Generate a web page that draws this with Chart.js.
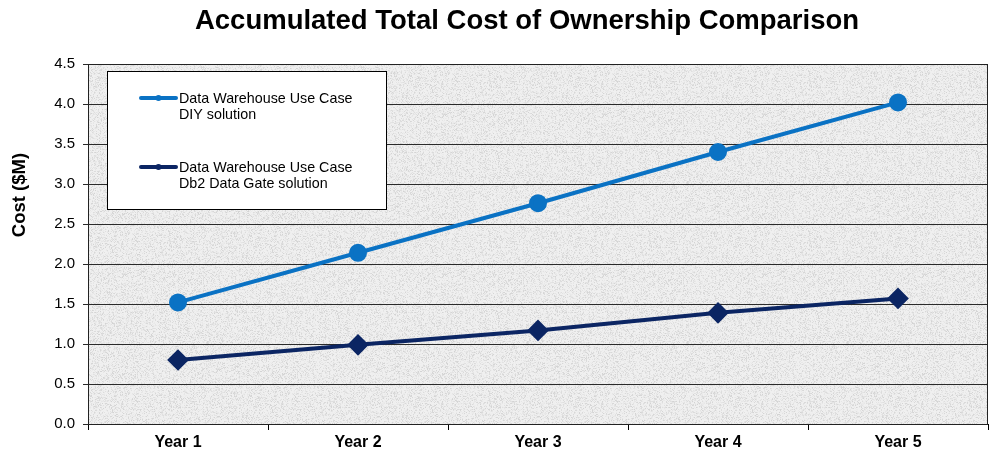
<!DOCTYPE html>
<html>
<head>
<meta charset="utf-8">
<script src="https://cdn.jsdelivr.net/npm/chart.js@4.4.0/dist/chart.umd.min.js"></script>
<style>
  html, body { margin: 0; padding: 0; background: #fff; }
  #wrap { width: 992px; height: 452px; }
</style>
</head>
<body>
<div id="wrap"><canvas id="tcoChart" width="992" height="452"></canvas></div>
<script>
// Chart data
const years = ['Year 1', 'Year 2', 'Year 3', 'Year 4', 'Year 5'];
const diyCost = [1.52, 2.14, 2.76, 3.40, 4.02];
const dataGateCost = [0.80, 0.99, 1.17, 1.39, 1.57];
const diyLabel = ['Data Warehouse Use Case', 'DIY solution'];
const dataGateLabel = ['Data Warehouse Use Case', 'Db2 Data Gate solution'];
const chartTitle = 'Accumulated Total Cost of Ownership Comparison';
const yTitle = 'Cost ($M)';

const FONT = '"Liberation Sans", Arial, sans-serif';

// Granite-like fill for the plot area (fixed seed so every render is the same)
function makeTexture() {
    const c = document.createElement('canvas');
    c.width = 160; c.height = 160;
    const g = c.getContext('2d');
    const img = g.createImageData(160, 160);
    let seed = 12345;
    const next = () => { seed = (seed * 1103515245 + 12345) & 0x7fffffff; return seed / 0x7fffffff; };
    for (let i = 0; i < 160 * 160; i++) {
        const r = next();
        let v = 240 - Math.floor(r * r * r * 30);
        img.data[i * 4] = v;
        img.data[i * 4 + 1] = v;
        img.data[i * 4 + 2] = v;
        img.data[i * 4 + 3] = 255;
    }
    g.putImageData(img, 0, 0);
    return c;
}

const plotBackground = {
    id: 'plotBackground',
    beforeDraw(chart) {
        const { ctx, chartArea: a } = chart;
        ctx.save();
        ctx.fillStyle = ctx.createPattern(makeTexture(), 'repeat');
        ctx.fillRect(a.left, a.top, a.right - a.left, a.bottom - a.top);
        ctx.restore();
    },
    afterDraw(chart) {
        const { ctx, chartArea: a } = chart;
        ctx.save();
        ctx.strokeStyle = '#222';
        ctx.lineWidth = 1;
        ctx.strokeRect(a.left + 0.5, a.top + 0.5, a.right - a.left - 1, a.bottom - a.top);
        // title, centred a little left of the plot centre
        ctx.fillStyle = '#000';
        ctx.font = 'bold 27.5px ' + FONT;
        ctx.textAlign = 'center';
        ctx.textBaseline = 'middle';
        ctx.fillText(chartTitle, 527, 21);
        // y axis title sits above the middle of the axis, as in the original
        ctx.translate(20, 195);
        ctx.rotate(-Math.PI / 2);
        ctx.font = 'bold 18.5px ' + FONT;
        ctx.fillText(yTitle, 0, 0);
        ctx.restore();
    }
};

// Legend drawn inside the plot area, like the original
const boxLegend = {
    id: 'boxLegend',
    afterDraw(chart) {
        const { ctx } = chart;
        const x = 107, y = 71, w = 279, h = 138;
        ctx.save();
        ctx.fillStyle = '#fff';
        ctx.fillRect(x, y, w, h);
        ctx.strokeStyle = '#000';
        ctx.lineWidth = 1;
        ctx.strokeRect(x + 0.5, y + 0.5, w, h);
        const rows = [98, 167];
        chart.data.datasets.forEach((ds, i) => {
            const ly = rows[i];
            ctx.strokeStyle = ds.borderColor;
            ctx.lineWidth = 4;
            ctx.lineCap = 'round';
            ctx.beginPath();
            ctx.moveTo(141, ly);
            ctx.lineTo(176, ly);
            ctx.stroke();
            ctx.fillStyle = ds.borderColor;
            ctx.beginPath();
            ctx.arc(158.5, ly, 3, 0, Math.PI * 2);
            ctx.fill();
            ctx.fillStyle = '#000';
            ctx.font = '14.3px ' + FONT;
            ctx.textAlign = 'left';
            ctx.textBaseline = 'middle';
            ds.legendLines.forEach((t, j) => ctx.fillText(t, 179, ly + 1 + j * 16));
        });
        ctx.restore();
    }
};

const ctx = document.getElementById('tcoChart').getContext('2d');
new Chart(ctx, {
    type: 'line',
    data: {
        labels: years,
        datasets: [{
            label: diyLabel.join(' '),
            legendLines: diyLabel,
            data: diyCost,
            borderColor: '#0a72c4',
            backgroundColor: '#0a72c4',
            borderWidth: 4,
            pointStyle: 'circle',
            pointRadius: 7,
            pointHoverRadius: 7
        }, {
            label: dataGateLabel.join(' '),
            legendLines: dataGateLabel,
            data: dataGateCost,
            borderColor: '#0b2563',
            backgroundColor: '#0b2563',
            borderWidth: 4,
            pointStyle: 'rectRot',
            pointRadius: 8,
            pointHoverRadius: 8
        }]
    },
    options: {
        responsive: false,
        animation: false,
        layout: { autoPadding: false, padding: { top: 64, right: 4, left: 0, bottom: 0 } },
        plugins: {
            legend: { display: false },
            title: { display: false },
            tooltip: { enabled: false }
        },
        scales: {
            x: {
                offset: true,
                afterFit(scale) { scale.height = 28; },
                grid: { offset: true, drawOnChartArea: false, tickLength: 6, color: '#000' },
                border: { display: false },
                ticks: {
                    color: '#000',
                    padding: 3,
                    font: { family: FONT, size: 16, weight: 'bold' }
                }
            },
            y: {
                min: 0,
                max: 4.5,
                afterFit(scale) { scale.width = 88; },
                grid: { color: '#2a2a2a', tickLength: 5 },
                border: { display: false },
                ticks: {
                    stepSize: 0.5,
                    color: '#000',
                    padding: 8,
                    font: { family: FONT, size: 15 },
                    callback: v => v.toFixed(1)
                }
            }
        }
    },
    plugins: [plotBackground, boxLegend]
});
</script>
</body>
</html>
